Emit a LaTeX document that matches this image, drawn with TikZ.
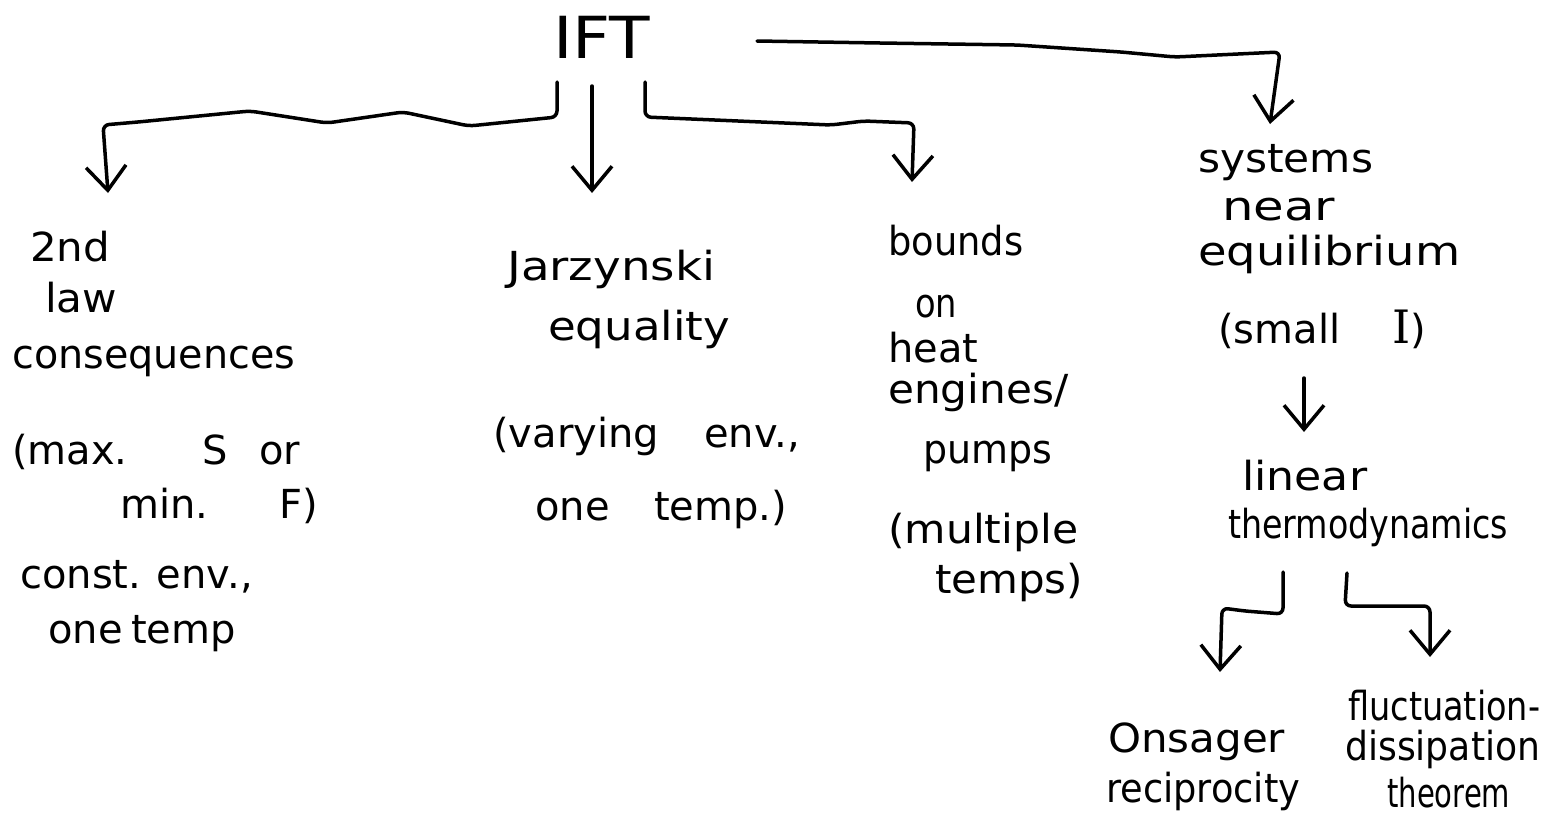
\documentclass[tikz,border=0pt]{standalone}
\usepackage{fontspec}
\usepackage{graphicx}
\setmainfont{DejaVu Sans}
\newfontfamily\serifI{DejaVu Serif}
\usetikzlibrary{arrows.meta}
\tikzset{
  txt/.style={anchor=base west, inner sep=0pt, font=\fontsize{40}{48}\selectfont},
  big/.style={anchor=base west, inner sep=0pt, font=\fontsize{58}{64}\selectfont},
  conn/.style={line width=3.5pt, line cap=round, line join=round, rounded corners=6pt,
    -{Straight Barb[length=24pt,width=40pt,line width=3.5pt]}}
}
\newcommand{\sw}[2]{\makebox[#1pt][s]{#2}}
\newcommand{\fw}[2]{\resizebox{#1pt}{\height}{#2}}
\begin{document}
\begin{tikzpicture}[x=1pt,y=-1pt]
\useasboundingbox (0,0) rectangle (1547,820);
% root
\node[big] (ift) at (553,58) {\fw{97}{IFT}};
% block 1
\node[txt] (a1) at (30,261) {\fw{80}{2nd}};
\node[txt] (a2) at (45,312) {\fw{72}{law}};
\node[txt] (a3) at (12,368) {\fw{283}{consequences}};
\node[txt] (a4) at (12,464) {\sw{288}{(max. S or}};
\node[txt] (a5) at (120,518) {\sw{198}{min. F)}};
\node[txt] (a6) at (20,588) {\sw{230}{const. env.,}};
\node[txt] (a7) at (48,643) {\sw{187}{one temp}};
% block 2
\node[txt] (b1) at (507,280) {\fw{208}{Jarzynski}};
\node[txt] (b2) at (548,340) {\fw{182}{equality}};
\node[txt] (b3) at (493,447) {\sw{307}{(varying env.,}};
\node[txt] (b4) at (535,520) {\sw{252}{one temp.)}};
% block 3
\node[txt] (c1) at (888,255) {\fw{135}{bounds}};
\node[txt] (c2) at (915,317) {\fw{42}{on}};
\node[txt] (c3) at (888,362) {\fw{90}{heat}};
\node[txt] (c4) at (888,403) {\fw{180}{engines/}};
\node[txt] (c5) at (923,463) {\fw{129}{pumps}};
\node[txt] (c6) at (888,543) {\fw{190}{(multiple}};
\node[txt] (c7) at (935,593) {\fw{148}{temps)}};
% block 4
\node[txt] (d1) at (1198,172) {\fw{175}{systems}};
\node[txt] (d2) at (1222,220) {\fw{113}{near}};
\node[txt] (d3) at (1198,265) {\fw{262}{equilibrium}};
\node[txt] (d4) at (1218,343) {\sw{208}{(small {\serifI\fontsize{46}{50}\selectfont I})}};
\node[txt] (e1) at (1242,490) {\fw{125}{linear}};
\node[txt] (e2) at (1228,538) {\fw{280}{thermodynamics}};
% block 5
\node[txt] (f1) at (1108,752) {\fw{177}{Onsager}};
\node[txt] (f2) at (1106,802) {\fw{194}{reciprocity}};
\node[txt] (g1) at (1348,720) {\fw{192}{fluctuation-}};
\node[txt] (g2) at (1345,760) {\fw{195}{dissipation}};
\node[txt] (g3) at (1387,807) {\fw{123}{theorem}};
% connector end points
\coordinate (s1) at (557,82);
\coordinate (t1) at (108,193);
\coordinate (s2) at (592,86);
\coordinate (t2) at (592,193);
\coordinate (s3) at (645,82);
\coordinate (t3) at (912,182);
\coordinate (s4) at (757,41);
\coordinate (t4) at (1270,124);
\coordinate (s5) at (1304,378);
\coordinate (t5) at (1304,432);
\coordinate (s6) at (1283,572);
\coordinate (t6) at (1220,672);
\coordinate (s7) at (1347,573);
\coordinate (t7) at (1430,657);
% connectors
\draw[conn] (s1) -- (557,117) -- (469,126) -- (403,112) -- (327,123) -- (250,111) -- (138,122) -- (103,125) -- (t1);
\draw[conn] (s2) -- (t2);
\draw[conn] (s3) -- (645,117) -- (831,125) -- (864,121) -- (914,123) -- (t3);
\draw[conn] (s4) -- (880,43) -- (1017,45) -- (1121,52) -- (1175,57) -- (1280,52) -- (t4);
\draw[conn] (s5) -- (t5);
\draw[conn] (s6) -- (1283,614) -- (1245,611) -- (1222,608) -- (t6);
\draw[conn] (s7) -- (1345,606) -- (1430,606) -- (t7);
\end{tikzpicture}
\end{document}
